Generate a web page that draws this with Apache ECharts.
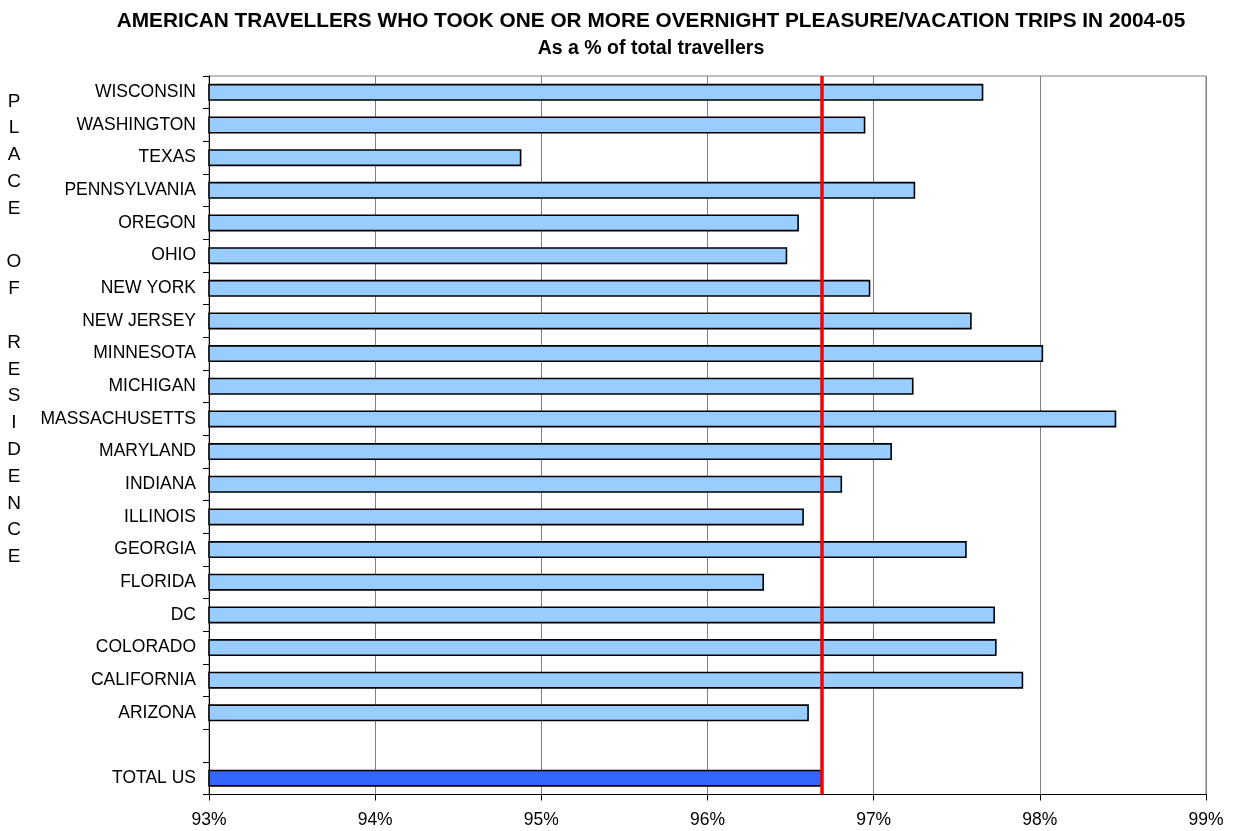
<!DOCTYPE html>
<html>
<head>
<meta charset="utf-8">
<script src="https://cdn.jsdelivr.net/npm/echarts@6/dist/echarts.min.js"></script>
<style>
  html, body { margin: 0; padding: 0; background: #ffffff; }
  #chart { width: 1234px; height: 831px; }
</style>
</head>
<body>
<div id="chart"></div>
<script>
// States of residence, listed top to bottom; '' leaves an empty row before the national total
const categories = [
  'WISCONSIN', 'WASHINGTON', 'TEXAS', 'PENNSYLVANIA', 'OREGON', 'OHIO',
  'NEW YORK', 'NEW JERSEY', 'MINNESOTA', 'MICHIGAN', 'MASSACHUSETTS',
  'MARYLAND', 'INDIANA', 'ILLINOIS', 'GEORGIA', 'FLORIDA', 'DC',
  'COLORADO', 'CALIFORNIA', 'ARIZONA', '', 'TOTAL US'
];

// Share of travellers (%) who took one or more overnight pleasure/vacation trips
const shares = [
  97.66, 96.95, 94.88, 97.25, 96.55, 96.48,
  96.98, 97.59, 98.02, 97.24, 98.46,
  97.11, 96.81, 96.58, 97.56, 96.34, 97.73,
  97.74, 97.90, 96.61, null, 96.69
];

const totalLabel = 'TOTAL US';

// Value axis range and ticks (percent)
const axisMin = 93;
const axisMax = 99;
const axisStep = 1;

const titleText = 'AMERICAN TRAVELLERS WHO TOOK ONE OR MORE OVERNIGHT PLEASURE/VACATION TRIPS IN 2004-05';
const subtitleText = 'As a % of total travellers';
const axisTitleText = 'PLACE OF RESIDENCE';

const FONT = '"Liberation Sans", Arial, Helvetica, sans-serif';

const totalValue = shares[categories.indexOf(totalLabel)];

const barData = shares.map(function (v, i) {
  if (categories[i] === totalLabel) {
    return { value: v, itemStyle: { color: '#3366FF' } };
  }
  return v;
});

// Stack the axis title one letter per line; a space becomes an empty line
const stackedTitle = axisTitleText.split('').join('\n');

const chart = echarts.init(document.getElementById('chart'), null, { renderer: 'canvas' });

chart.setOption({
  backgroundColor: '#ffffff',
  animation: false,
  textStyle: { fontFamily: FONT, color: '#000000' },
  title: [
    {
      text: titleText,
      left: 651, top: 11, textAlign: 'center', padding: 0,
      textStyle: { fontFamily: FONT, fontSize: 20.8, fontWeight: 'bold', color: '#000000' }
    },
    {
      text: subtitleText,
      left: 651, top: 39, textAlign: 'center', padding: 0,
      textStyle: { fontFamily: FONT, fontSize: 19.5, fontWeight: 'bold', color: '#000000' }
    },
    {
      text: stackedTitle,
      left: 14, top: 88, textAlign: 'center', padding: 0,
      textStyle: { fontFamily: FONT, fontSize: 19, fontWeight: 'normal', color: '#000000', lineHeight: 26.8 }
    }
  ],
  grid: {
    left: 209, right: 28, top: 76, bottom: 36.5,
    show: true, borderColor: '#808080', borderWidth: 1, backgroundColor: 'transparent'
  },
  xAxis: {
    type: 'value',
    min: axisMin, max: axisMax, interval: axisStep,
    axisLine: { show: true, lineStyle: { color: '#000000', width: 1 } },
    axisTick: { show: true, length: 6, lineStyle: { color: '#000000' } },
    splitLine: { show: true, lineStyle: { color: '#808080', width: 1 } },
    axisLabel: {
      formatter: '{value}%', fontFamily: FONT, fontSize: 17.5, color: '#000000', margin: 17
    }
  },
  yAxis: {
    type: 'category',
    data: categories,
    inverse: true,
    axisLine: { show: true, lineStyle: { color: '#000000', width: 1 } },
    axisTick: { show: true, length: 6, alignWithLabel: false, lineStyle: { color: '#000000' } },
    splitLine: { show: false },
    axisLabel: { fontFamily: FONT, fontSize: 17.5, color: '#000000', margin: 13, interval: 0 }
  },
  series: [
    {
      type: 'bar',
      data: barData,
      barWidth: 17,
      itemStyle: { color: '#99CCFF', borderColor: '#000000', borderWidth: 1.6 },
      markLine: {
        silent: true,
        symbol: ['none', 'none'],
        label: { show: false },
        lineStyle: { color: '#FF0000', width: 3.5, type: 'solid' },
        data: [{ xAxis: totalValue }]
      }
    }
  ]
});
</script>
</body>
</html>
